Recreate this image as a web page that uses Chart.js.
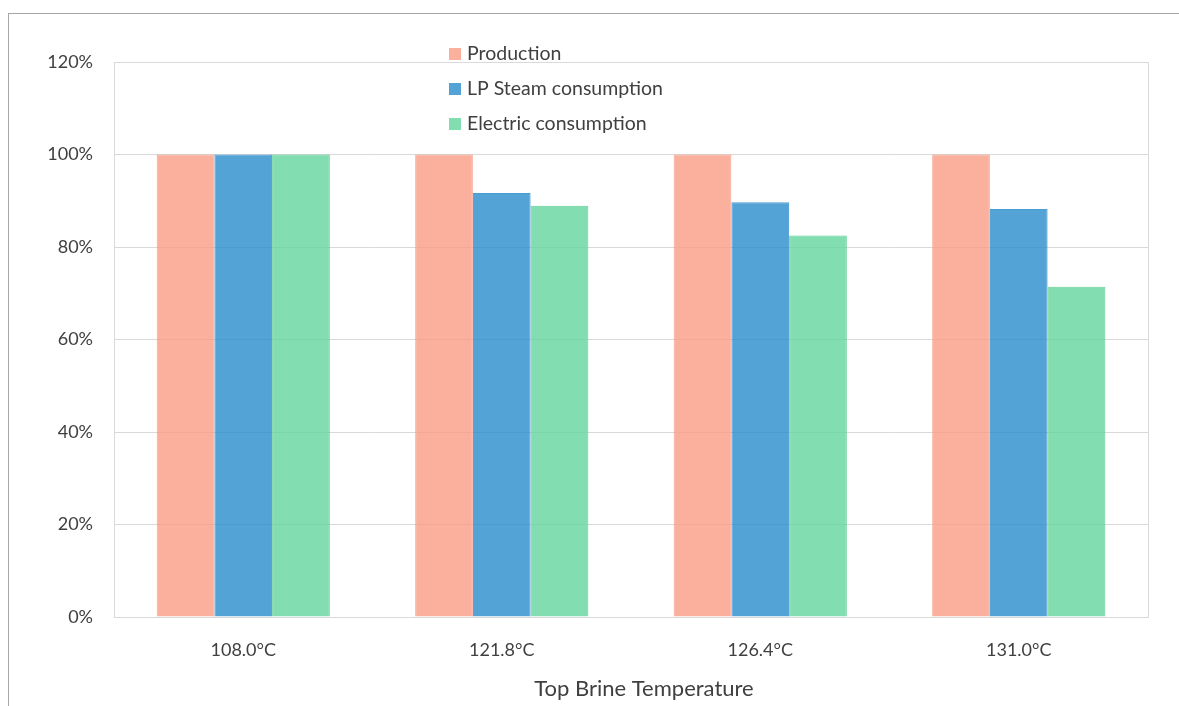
<!doctype html>
<html>
<head>
<meta charset="utf-8">
<title>Top Brine Temperature</title>
<script src="https://cdn.jsdelivr.net/npm/chart.js"></script>
<style>
    html, body {margin: 0; padding: 0; background: #fff; overflow: hidden}
    #frame {position: absolute; left: 8px; top: 13px; width: 1200px; height: 720px; border-left: 1px solid #a6a6a6; border-top: 1px solid #a6a6a6}
    #wrap {position: absolute; left: 0; top: 0; width: 1179px; height: 706px}
</style>
</head>
<body>
<div id="frame"></div>
<div id="wrap"><canvas id="chart"></canvas></div>
<script>
let categories = ['108.0°C', '121.8°C', '126.4°C', '131.0°C']
let production = [100, 100, 100, 100]
let steam = [100, 91.7, 89.7, 88.2]
let electric = [100, 88.9, 82.5, 71.4]
let seriesNames = ['Production', 'LP Steam consumption', 'Electric consumption']
let yTicks = [0, 20, 40, 60, 80, 100, 120]
let xTitle = 'Top Brine Temperature'

let font = 'Lato, "Open Sans", sans-serif'
let textColor = '#404040'

// frame round the plot area
let plotBorder = {
    id: 'plotBorder',
    afterDatasetsDraw(chart) {
        let {ctx, chartArea: a} = chart
        ctx.save()
        ctx.strokeStyle = '#d9d9d9'
        ctx.lineWidth = 1
        ctx.strokeRect(a.left + 0.5, a.top + 0.5, a.right - a.left, a.bottom - a.top)
        ctx.restore()
    }
}

// vertical legend inside the plot and the axis title, placed as in the original
let extras = {
    id: 'extras',
    afterDraw(chart) {
        let ctx = chart.ctx
        let x = 449, y = 54
        ctx.save()
        ctx.font = '19.5px ' + font
        ctx.textBaseline = 'middle'
        chart.data.datasets.forEach(function (ds, i) {
            let yy = y + i * 35
            ctx.fillStyle = ds.backgroundColor
            ctx.fillRect(x, yy - 6, 12, 12)
            ctx.fillStyle = textColor
            ctx.fillText(ds.label, x + 18, yy)
        })
        ctx.font = '22px ' + font
        ctx.textAlign = 'center'
        ctx.fillText(xTitle, 644, 689)
        ctx.restore()
    }
}

new Chart(document.getElementById('chart'), {
    type: 'bar',
    data: {
        labels: categories,
        datasets: [
            {label: seriesNames[0], data: production, backgroundColor: 'rgba(250,156,133,0.8)', borderColor: 'rgba(245,150,128,0.8)', borderWidth: 1},
            {label: seriesNames[1], data: steam, backgroundColor: 'rgba(41,140,204,0.8)', borderColor: 'rgba(41,140,204,0.85)', borderWidth: 1},
            {label: seriesNames[2], data: electric, backgroundColor: 'rgba(99,214,156,0.8)', borderColor: 'rgba(80,205,140,0.85)', borderWidth: 1}
        ]
    },
    options: {
        responsive: true,
        maintainAspectRatio: false,
        animation: false,
        layout: {padding: {top: 62, right: 31, left: 0, bottom: 0}},
        datasets: {bar: {categoryPercentage: 0.67, barPercentage: 1}},
        plugins: {legend: {display: false}, tooltip: {enabled: false}},
        scales: {
            x: {
                grid: {display: false},
                border: {display: false},
                ticks: {color: textColor, font: {family: font, size: 18}, padding: 14},
                afterFit(scale) { scale.height = 89 }
            },
            y: {
                min: 0,
                max: 120,
                afterBuildTicks(scale) { scale.ticks = yTicks.map(v => ({value: v})) },
                grid: {color: '#d9d9d9', drawTicks: false},
                border: {display: false},
                ticks: {color: textColor, font: {family: font, size: 18}, padding: 21, callback: v => v + '%'},
                afterFit(scale) { scale.width = 114 }
            }
        }
    },
    plugins: [plotBorder, extras]
})
</script>
</body>
</html>
